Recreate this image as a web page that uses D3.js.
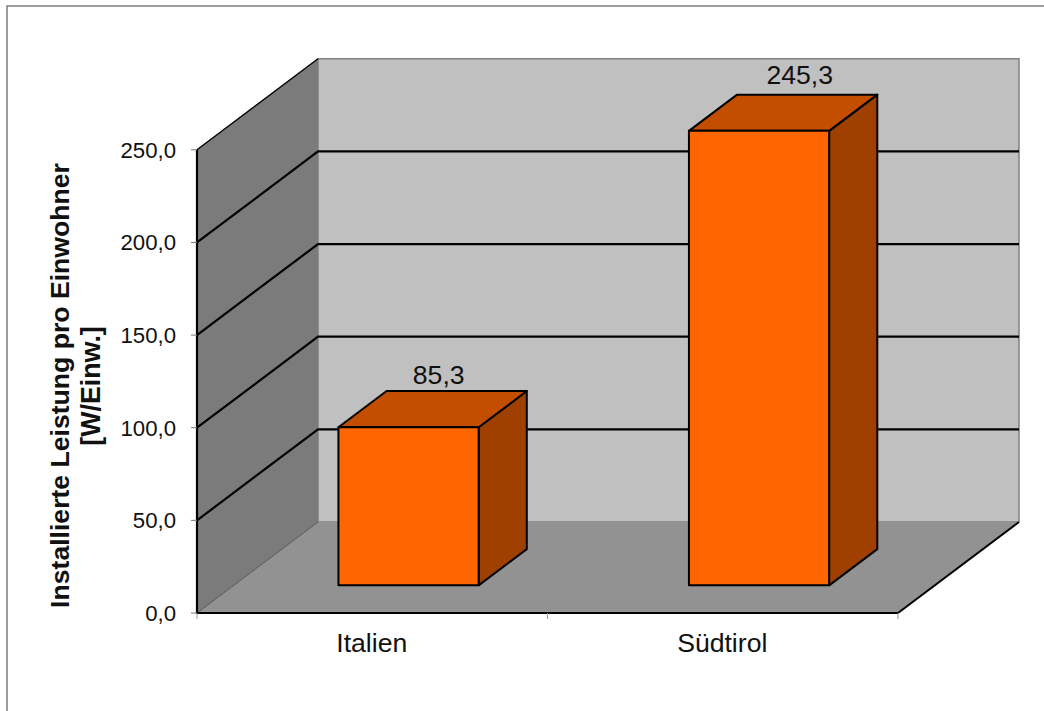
<!DOCTYPE html>
<html><head><meta charset="utf-8">
<script src="https://cdn.jsdelivr.net/npm/d3@7/dist/d3.min.js"></script>
<style>html,body{margin:0;padding:0;background:#fff}svg{display:block}text{font-family:"Liberation Sans",Arial,sans-serif;fill:#111}</style>
</head><body><svg id="c" width="1044" height="711"></svg>
<script>
const categories = ["Italien", "Südtirol"];
const values = [85.3, 245.3];
const valueLabels = ["85,3", "245,3"];
const yTicks = [0, 50, 100, 150, 200, 250];
const yTickLabels = ["0,0", "50,0", "100,0", "150,0", "200,0", "250,0"];
const yTitle = ["Installierte Leistung pro Einwohner", "[W/Einw.]"];

const svg = d3.select("#c");
const x = d3.scaleBand().domain(categories).range([197, 898]).paddingInner(0).paddingOuter(0);
const y = d3.scaleLinear().domain([0, 250]).range([613, 149.8]);
// depth axis: 0 = front of the floor, 1 = back wall
const dx = d3.scaleLinear().domain([0, 1]).range([0, 121]);
const dy = d3.scaleLinear().domain([0, 1]).range([0, -91]);
const P = (px, v, d) => [px + dx(d), y(v) + dy(d)];
const poly = pts => "M" + pts.map(p => p.join(",")).join("L") + "Z";
const [xL, xR] = x.range();
const [vMin, vMax] = y.domain();

svg.append("rect").attr("x", 7).attr("y", 6).attr("width", 1060).attr("height", 760)
  .attr("fill", "#fff").attr("stroke", "#5c5c5c").attr("stroke-width", 1.2);

// walls and floor
svg.append("path").attr("d", poly([P(xL,vMin,1),P(xR,vMin,1),P(xR,vMax,1),P(xL,vMax,1)]))
  .attr("fill", "#c0c0c0").attr("stroke", "#808080").attr("stroke-width", 1.5);
svg.append("path").attr("d", poly([P(xL,vMin,0),P(xL,vMin,1),P(xL,vMax,1),P(xL,vMax,0)]))
  .attr("fill", "#7b7b7b");
svg.append("path").attr("d", poly([P(xL,vMin,0),P(xR,vMin,0),P(xR,vMin,1),P(xL,vMin,1)]))
  .attr("fill", "#929292");

// gridlines on walls
const line = d3.line();
yTicks.filter(t => t > 0).forEach(t => {
  svg.append("path").attr("d", line([P(xL,t,0),P(xL,t,1)].concat(t < vMax ? [P(xR,t,1)] : [])))
    .attr("fill", "none").attr("stroke", "#000").attr("stroke-width", t < vMax ? 2.2 : 1.4);
});
// outlines
svg.append("path").attr("d", line([P(xL,vMin,0),P(xL,vMin,1)])).attr("stroke", "#555").attr("stroke-width", 1);
svg.append("path").attr("d", line([P(xR,vMin,0),P(xR,vMin,1)])).attr("stroke", "#000").attr("stroke-width", 2);
svg.append("path").attr("d", line([P(xL,vMax,0),P(xL,vMin,0),P(xR,vMin,0)]))
  .attr("fill", "none").attr("stroke", "#000").attr("stroke-width", 2.2);

// ticks
yTicks.forEach(t => svg.append("line").attr("x1", xL - 6).attr("x2", xL).attr("y1", y(t)).attr("y2", y(t)).attr("stroke", "#777"));
[xL, xL + x.bandwidth(), xR].forEach(px => svg.append("line").attr("x1", px).attr("x2", px).attr("y1", y(0)).attr("y2", y(0) + 6).attr("stroke", "#999"));

// axis labels
svg.selectAll(".yl").data(yTicks).join("text").attr("class", "yl")
  .attr("x", 176).attr("y", d => y(d) + 8).attr("text-anchor", "end").attr("font-size", 22.2)
  .text((d, i) => yTickLabels[i]);
svg.selectAll(".xl").data(categories).join("text").attr("class", "xl")
  .attr("x", d => x(d) + x.bandwidth() / 2 - 0.5).attr("y", 652).attr("text-anchor", "middle").attr("font-size", 26.6)
  .text(d => d);
svg.append("text").attr("transform", "translate(68.5,385.5) rotate(-90)").attr("text-anchor", "middle")
  .attr("font-size", 26.6).attr("font-weight", "bold").text(yTitle[0]);
svg.append("text").attr("transform", "translate(100,386) rotate(-90)").attr("text-anchor", "middle")
  .attr("font-size", 26.8).attr("font-weight", "bold").text(yTitle[1]);

// bars
const barFrac = 0.4, d0 = 0.304, d1 = 0.702;
const nudgeX = [-18, -7.5], nudgeY = [-7, -11];
categories.forEach((c, i) => {
  const bw = x.bandwidth() * barFrac;
  const l = x(c) + x.bandwidth() * (1 - barFrac) / 2 - 0.5;
  const r = l + bw;
  const v = values[i];
  const common = s => s.attr("stroke", "#000").attr("stroke-width", 2).attr("stroke-linejoin", "round");
  const fr = (px, val) => P(px, val, d0), bk = (px, val) => P(px, val, d1);
  common(svg.append("path").attr("d", poly([fr(r,0),bk(r,0),bk(r,v),fr(r,v)])).attr("fill", "#a04000"));
  common(svg.append("path").attr("d", poly([fr(l,v),fr(r,v),bk(r,v),bk(l,v)])).attr("fill", "#c34e00"));
  common(svg.append("path").attr("d", poly([fr(l,0),fr(r,0),fr(r,v),fr(l,v)])).attr("fill", "#ff6600"));
  const top = bk((l + r) / 2, v);
  svg.append("text").attr("x", top[0] + nudgeX[i]).attr("y", top[1] + nudgeY[i]).attr("text-anchor", "middle")
    .attr("font-size", 26.6).text(valueLabels[i]);
});
</script></body></html>
